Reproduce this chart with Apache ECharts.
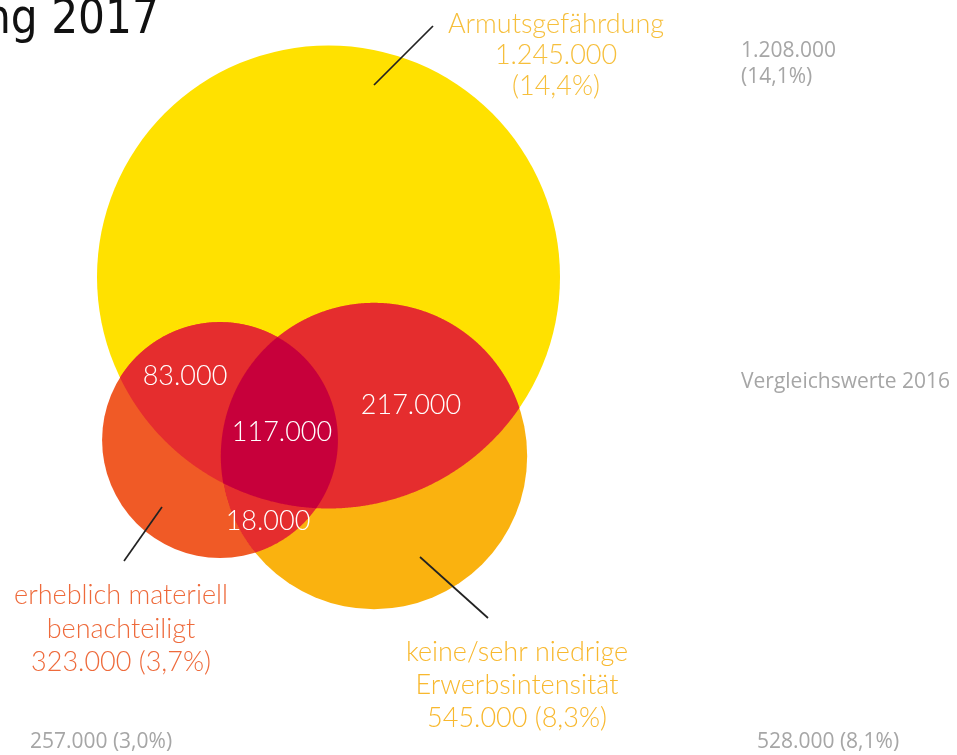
<!DOCTYPE html>
<html><head><meta charset="utf-8">
<script src="https://cdn.jsdelivr.net/npm/echarts@6/dist/echarts.min.js"></script>
<style>html,body{margin:0;padding:0;background:#fff}#chart{width:957px;height:755px}</style>
</head><body><div id="chart"></div>
<script>
// ---------- data ----------
const titleText = 'ng 2017';
const setNames = ['Armutsgefährdung', 'erheblich materiell\nbenachteiligt', 'keine/sehr niedrige\nErwerbsintensität'];
const values2017 = [1245000, 323000, 545000];
const shares2017 = ['14,4%', '3,7%', '8,3%'];
const values2016 = [1208000, 257000, 528000];
const shares2016 = ['14,1%', '3,0%', '8,1%'];
const compareLabel = 'Vergleichswerte 2016';
const overlapSets = [[0, 1], [0, 2], [1, 2], [0, 1, 2]];
const overlapValues = [83000, 217000, 18000, 117000];

// ---------- layout & style ----------
const layout = {
  centers: [[328.5, 277], [220, 440], [374, 456]],
  maxRadius: 231.5,
  setColors: ['#FFE100', '#F05A26', '#FAB20F'],
  pairColor: '#E52D2E',
  tripleColor: '#C7003B',
  labelColors: ['#F6BF3C', '#EE6A3B', '#F8B82E'],
  labelPos: [[556, 55], [121, 629], [517, 685]],
  labelLineHeight: [31, 33.5, 33],
  valueOwnLine: [true, false, false],
  leaderLines: [[[374, 85], [433, 26]], [[162, 507], [124, 561]], [[420, 557], [488, 618]]],
  overlapLabelPos: [[185, 376], [411, 405], [268, 521], [282, 432]],
  grayPos: [[741, 64, 'left'], [101, 742, 'center'], [828, 742, 'center']],
  comparePos: [741, 382],
  colorFont: 'Lato',
  grayFont: 'Open Sans',
  gray: '#A6A6A6'
};

function fmt(v) { return String(v).replace(/\B(?=(\d{3})+(?!\d))/g, '.'); }
const maxVal = Math.max.apply(null, values2017);
function radiusOf(v) { return layout.maxRadius * Math.sqrt(v / maxVal); }
function circlePx(api, i) {
  const c = api.coord(layout.centers[i]);
  const r = api.size([radiusOf(values2017[i]), 0])[0];
  return { cx: c[0], cy: c[1], r: r };
}
function inside(x, y, c, tol) { return Math.hypot(x - c.cx, y - c.cy) <= c.r + tol; }
function regionPolygon(circles) {
  const pts = [];
  const N = 1440;
  circles.forEach(function (c, k) {
    for (let t = 0; t < N; t++) {
      const a = 2 * Math.PI * t / N;
      const x = c.cx + c.r * Math.cos(a), y = c.cy + c.r * Math.sin(a);
      if (circles.every(function (o, j) { return j === k || inside(x, y, o, 1e-6); })) pts.push([x, y]);
    }
  });
  for (let i = 0; i < circles.length; i++) for (let j = i + 1; j < circles.length; j++) {
    const a = circles[i], b = circles[j];
    const dx = b.cx - a.cx, dy = b.cy - a.cy, d = Math.hypot(dx, dy);
    if (d >= a.r + b.r || d <= Math.abs(a.r - b.r)) continue;
    const l = (d * d + a.r * a.r - b.r * b.r) / (2 * d);
    const h = Math.sqrt(Math.max(0, a.r * a.r - l * l));
    const mx = a.cx + dx * l / d, my = a.cy + dy * l / d;
    [[mx - dy * h / d, my + dx * h / d], [mx + dy * h / d, my - dx * h / d]].forEach(function (p) {
      if (circles.every(function (o) { return inside(p[0], p[1], o, 0.01); })) pts.push(p);
    });
  }
  let sx = 0, sy = 0;
  pts.forEach(function (p) { sx += p[0]; sy += p[1]; });
  sx /= pts.length; sy /= pts.length;
  pts.sort(function (p, q) { return Math.atan2(p[1] - sy, p[0] - sx) - Math.atan2(q[1] - sy, q[0] - sx); });
  return pts;
}

const chart = echarts.init(document.getElementById('chart'), null, { renderer: 'canvas' });

const option = {
  animation: false,
  backgroundColor: '#ffffff',
  grid: { left: 0, right: 0, top: 0, bottom: 0 },
  xAxis: { type: 'value', min: 0, max: 957, show: false },
  yAxis: { type: 'value', min: 0, max: 755, inverse: true, show: false },
  graphic: [{
    type: 'text', x: -16, y: 21, z: 100, scaleX: 0.98,
    style: { text: titleText, fontSize: 48, fontFamily: 'DejaVu Sans Condensed', fill: '#111111', verticalAlign: 'middle', align: 'left' }
  }],
  series: [
    {
      name: 'Mengen', type: 'custom', z: 1,
      data: values2017.map(function (v, i) { return [layout.centers[i][0], layout.centers[i][1], v]; }),
      renderItem: function (params, api) {
        const c = api.coord([api.value(0), api.value(1)]);
        const r = api.size([radiusOf(api.value(2)), 0])[0];
        return { type: 'circle', shape: { cx: c[0], cy: c[1], r: r }, style: { fill: layout.setColors[params.dataIndex] } };
      }
    },
    {
      name: 'Überschneidungen', type: 'custom', z: 2,
      data: overlapValues.map(function (v, i) { return [layout.overlapLabelPos[i][0], layout.overlapLabelPos[i][1], v]; }),
      renderItem: function (params, api) {
        const members = overlapSets[params.dataIndex];
        const circles = members.map(function (m) { return circlePx(api, m); });
        const poly = regionPolygon(circles);
        const color = members.length === 3 ? layout.tripleColor : layout.pairColor;
        return { type: 'polygon', z2: members.length, shape: { points: poly }, style: { fill: color } };
      }
    },
    {
      name: 'Überschneidungswerte', type: 'custom', z: 3,
      data: overlapValues.map(function (v, i) { return [layout.overlapLabelPos[i][0], layout.overlapLabelPos[i][1], v]; }),
      renderItem: function (params, api) {
        const p = api.coord([api.value(0), api.value(1)]);
        return { type: 'text', style: { text: fmt(api.value(2)), x: p[0], y: p[1], fill: '#ffffff', fontSize: 27, fontFamily: layout.colorFont, fontWeight: 300, align: 'center', verticalAlign: 'middle' } };
      }
    },
    {
      name: 'Beschriftung 2017', type: 'custom', z: 4,
      data: values2017.map(function (v, i) { return [layout.labelPos[i][0], layout.labelPos[i][1], v]; }),
      renderItem: function (params, api) {
        const i = params.dataIndex;
        const p = api.coord([api.value(0), api.value(1)]);
        const txt = layout.valueOwnLine[i]
          ? setNames[i] + '\n' + fmt(api.value(2)) + '\n(' + shares2017[i] + ')'
          : setNames[i] + '\n' + fmt(api.value(2)) + ' (' + shares2017[i] + ')';
        const l = layout.leaderLines[i];
        const a = api.coord(l[0]), b = api.coord(l[1]);
        return {
          type: 'group', children: [
            { type: 'line', shape: { x1: a[0], y1: a[1], x2: b[0], y2: b[1] }, style: { stroke: '#222222', lineWidth: 1.7 } },
            { type: 'text', style: { text: txt, x: p[0], y: p[1], fill: layout.labelColors[i], fontSize: 27, fontFamily: layout.colorFont, fontWeight: 300, lineHeight: layout.labelLineHeight[i], align: 'center', verticalAlign: 'middle' } }
          ]
        };
      }
    },
    {
      name: 'Vergleichswerte 2016', type: 'custom', z: 4,
      data: values2016.map(function (v, i) { return [layout.grayPos[i][0], layout.grayPos[i][1], v]; }),
      renderItem: function (params, api) {
        const i = params.dataIndex;
        const p = api.coord([api.value(0), api.value(1)]);
        const txt = layout.valueOwnLine[i]
          ? fmt(api.value(2)) + '\n(' + shares2016[i] + ')'
          : fmt(api.value(2)) + ' (' + shares2016[i] + ')';
        const children = [
          { type: 'text', style: { text: txt, x: p[0], y: p[1], fill: layout.gray, fontSize: 21, fontFamily: layout.grayFont, lineHeight: 26, align: layout.grayPos[i][2], verticalAlign: 'middle' } }
        ];
        if (i === 0) {
          const q = api.coord(layout.comparePos);
          children.push({ type: 'text', style: { text: compareLabel, x: q[0], y: q[1], fill: layout.gray, fontSize: 21, fontFamily: layout.grayFont, align: 'left', verticalAlign: 'middle' } });
        }
        return { type: 'group', children: children };
      }
    }
  ]
};
chart.setOption(option);
</script>
</body></html>
